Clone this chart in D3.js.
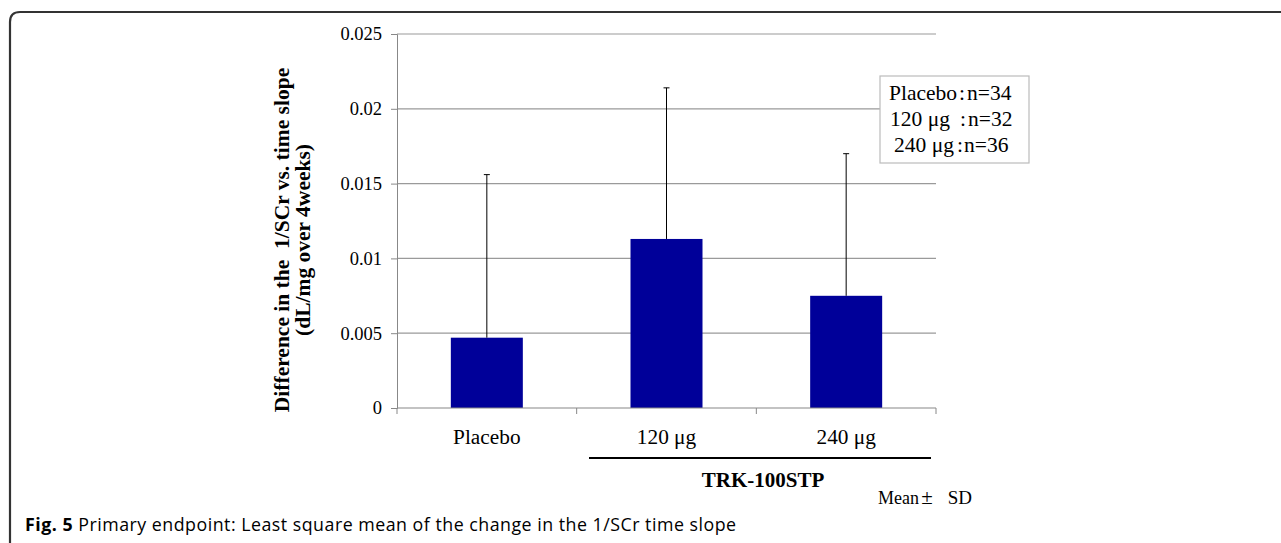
<!DOCTYPE html>
<html>
<head>
<meta charset="utf-8">
<script src="https://cdn.jsdelivr.net/npm/d3@7"></script>
<style>
  body { margin: 0; background: #fff; }
  text { fill: #000; }
</style>
</head>
<body>
<div id="chart"></div>
<script>
// data
var groups = ["Placebo", "120 μg", "240 μg"];
var means = [0.0047, 0.0113, 0.0075];
var sds = [0.0109, 0.0101, 0.0095];
var yTicks = [0, 0.005, 0.01, 0.015, 0.02, 0.025];
var yTickLabels = ["0", "0.005", "0.01", "0.015", "0.02", "0.025"];
var legendLabels = ["Placebo", "120 μg", "240 μg"];
var legendN = ["n=34", "n=32", "n=36"];

var serif = "Liberation Serif, Times New Roman, serif";
var W = 1281, H = 543;
var margin = {top: 34, left: 397},
    width = 539,
    height = 374;

var svg = d3.select("#chart")
  .append("svg")
    .attr("width", W)
    .attr("height", H);

// outer frame (rounded corner, open at right/bottom)
svg.append("path")
  .attr("d", "M10,543 L10,22 Q10,12 20,12 L1281,12")
  .attr("fill", "none")
  .attr("stroke", "#333")
  .attr("stroke-width", 2.2);

var g = svg.append("g")
  .attr("transform", "translate(" + margin.left + "," + margin.top + ")");

var xb = d3.scaleBand().domain(groups).range([0, width]);

var y = d3.scaleLinear()
  .domain([0, 0.025])
  .range([height, 0]);

// gridlines
g.selectAll(".grid")
  .data(yTicks.slice(1))
  .enter()
  .append("line")
    .attr("x1", 0)
    .attr("x2", width)
    .attr("y1", function(d) { return y(d); })
    .attr("y2", function(d) { return y(d); })
    .attr("stroke", "#9a9a9a")
    .attr("stroke-width", 1.2);

// y axis
var yAxis = g.append("g")
  .call(d3.axisLeft(y).tickValues(yTicks).tickSize(6).tickPadding(9)
    .tickFormat(function(d, i) { return yTickLabels[i]; }));
yAxis.select(".domain").attr("stroke", "#888");
yAxis.selectAll(".tick line").attr("stroke", "#888");
yAxis.selectAll("text")
  .attr("font-family", serif)
  .attr("font-size", 18.5)
  .attr("fill", "#000");

// bars
g.selectAll(".bar")
  .data(groups)
  .enter()
  .append("rect")
    .attr("x", function(d) { return xb(d) + xb.bandwidth() / 2 - 36; })
    .attr("width", 72)
    .attr("y", function(d, i) { return y(means[i]); })
    .attr("height", function(d, i) { return height - y(means[i]); })
    .attr("fill", "#000099");

// error bars (upper only)
g.selectAll(".err")
  .data(groups)
  .enter()
  .append("line")
    .attr("x1", function(d) { return xb(d) + xb.bandwidth() / 2; })
    .attr("x2", function(d) { return xb(d) + xb.bandwidth() / 2; })
    .attr("y1", function(d, i) { return y(means[i]); })
    .attr("y2", function(d, i) { return y(means[i] + sds[i]); })
    .attr("stroke", "#000")
    .attr("stroke-width", 1);
g.selectAll(".cap")
  .data(groups)
  .enter()
  .append("line")
    .attr("x1", function(d) { return xb(d) + xb.bandwidth() / 2 - 3; })
    .attr("x2", function(d) { return xb(d) + xb.bandwidth() / 2 + 3; })
    .attr("y1", function(d, i) { return y(means[i] + sds[i]); })
    .attr("y2", function(d, i) { return y(means[i] + sds[i]); })
    .attr("stroke", "#000")
    .attr("stroke-width", 1);

// x axis
var xAxis = g.append("g")
  .attr("transform", "translate(0," + height + ")");
xAxis.append("line")
  .attr("x1", 0).attr("x2", width)
  .attr("stroke", "#888").attr("stroke-width", 1.2);
xAxis.selectAll(".xtick")
  .data([0, 1, 2, 3])
  .enter()
  .append("line")
    .attr("x1", function(d) { return d * xb.step(); })
    .attr("x2", function(d) { return d * xb.step(); })
    .attr("y1", 0).attr("y2", 6)
    .attr("stroke", "#888");
xAxis.selectAll(".xlabel")
  .data(groups)
  .enter()
  .append("text")
    .attr("x", function(d) { return xb(d) + xb.bandwidth() / 2; })
    .attr("y", 36)
    .attr("text-anchor", "middle")
    .attr("font-family", serif)
    .attr("font-size", 21.3)
    .text(function(d) { return d; });

// TRK-100STP bracket
svg.append("line")
  .attr("x1", 589).attr("x2", 931)
  .attr("y1", 458).attr("y2", 458)
  .attr("stroke", "#000").attr("stroke-width", 2);
svg.append("text")
  .attr("x", 763).attr("y", 487)
  .attr("text-anchor", "middle")
  .attr("font-family", serif)
  .attr("font-weight", "bold")
  .attr("font-size", 21)
  .text("TRK-100STP");
svg.append("text")
  .attr("x", 878).attr("y", 504)
  .attr("font-family", serif)
  .attr("font-size", 18)
  .text("Mean");
svg.append("text")
  .attr("x", 927).attr("y", 504)
  .attr("text-anchor", "middle")
  .attr("font-family", serif)
  .attr("font-size", 21)
  .text("±");
svg.append("text")
  .attr("x", 972).attr("y", 504)
  .attr("text-anchor", "end")
  .attr("font-family", serif)
  .attr("font-size", 19)
  .text("SD");

// y axis title
var yTitle = svg.append("text")
  .attr("transform", "translate(289,240) rotate(-90)")
  .attr("text-anchor", "middle")
  .attr("font-family", serif)
  .attr("font-weight", "bold")
  .attr("font-size", 21.5);
yTitle.append("tspan").attr("x", 0).attr("y", 0)
  .attr("xml:space", "preserve").style("white-space", "pre")
  .text("Difference in the  1/SCr vs. time slope");
yTitle.append("tspan").attr("x", 0).attr("y", 21).text("(dL/mg over 4weeks)");

// legend box
var leg = svg.append("g").attr("transform", "translate(880,76)");
leg.append("rect")
  .attr("width", 149).attr("height", 87)
  .attr("fill", "#fff")
  .attr("stroke", "#bbb").attr("stroke-width", 1.2);
var legX = [9, 10, 14], colonX = [79, 80, 77], nX = [87, 88, 84], legY = [24, 50, 76];
var rows = leg.selectAll(".row")
  .data(legendLabels)
  .enter()
  .append("g")
    .attr("transform", function(d, i) { return "translate(0," + legY[i] + ")"; })
    .attr("font-family", serif)
    .attr("font-size", 21.5);
rows.append("text")
  .attr("x", function(d, i) { return legX[i]; })
  .text(function(d) { return d; });
rows.append("text")
  .attr("x", function(d, i) { return colonX[i]; })
  .text(":");
rows.append("text")
  .attr("x", function(d, i) { return nX[i]; })
  .text(function(d, i) { return legendN[i]; });

// caption
var cap = svg.append("text")
  .attr("x", 25).attr("y", 531)
  .attr("font-family", "Open Sans, Noto Sans, sans-serif")
  .attr("font-size", 17.8)
  .attr("letter-spacing", 0.5)
  .attr("fill", "#231f20");
cap.append("tspan").attr("font-weight", "bold").text("Fig. 5");
cap.append("tspan").text(" Primary endpoint: Least square mean of the change in the 1/SCr time slope");
</script>
</body>
</html>
